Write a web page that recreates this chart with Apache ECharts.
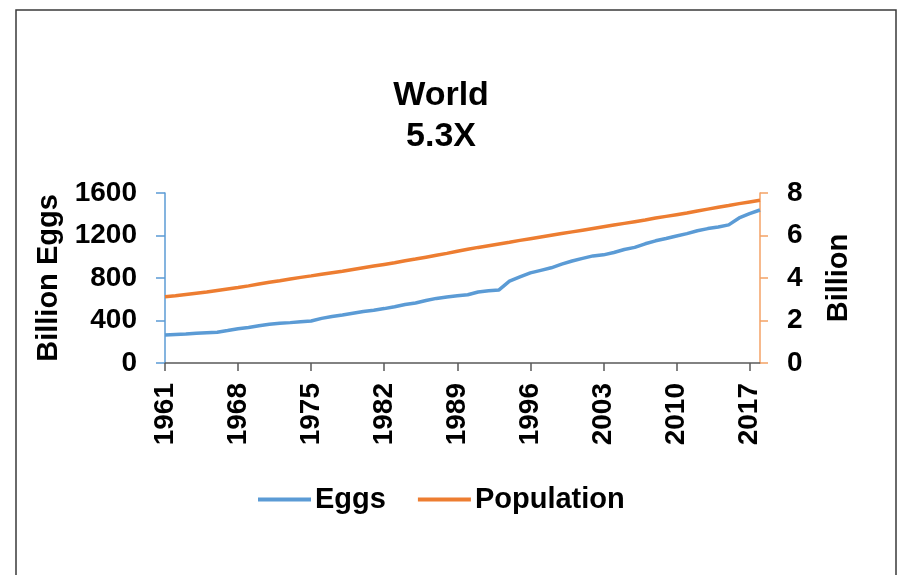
<!DOCTYPE html>
<html>
<head>
<meta charset="utf-8">
<style>
  html, body { margin: 0; padding: 0; background: #ffffff; }
  #chart { width: 901px; height: 575px; }
</style>
<script src="https://cdn.jsdelivr.net/npm/echarts@6/dist/echarts.min.js"></script>
</head>
<body>
<div id="chart"></div>
<script>
// Years 1961–2018
const years = [
  '1961','1962','1963','1964','1965','1966','1967','1968','1969','1970',
  '1971','1972','1973','1974','1975','1976','1977','1978','1979','1980',
  '1981','1982','1983','1984','1985','1986','1987','1988','1989','1990',
  '1991','1992','1993','1994','1995','1996','1997','1998','1999','2000',
  '2001','2002','2003','2004','2005','2006','2007','2008','2009','2010',
  '2011','2012','2013','2014','2015','2016','2017','2018'
];

// Egg production, billion eggs
const eggs = [
  263, 268, 272, 280, 285, 290, 305, 322, 335, 350,
  364, 375, 380, 388, 395, 420, 438, 452, 468, 484,
  496, 512, 530, 550, 565, 588, 608, 622, 632, 642,
  668, 680, 688, 770, 810, 848, 872, 896, 930, 960,
  985, 1008, 1018, 1040, 1068, 1088, 1122, 1150, 1172, 1195,
  1218, 1245, 1265, 1280, 1300, 1365, 1405, 1440
];

// World population, billion
const population = [
  3.12, 3.16, 3.22, 3.28, 3.34, 3.41, 3.48, 3.55, 3.63, 3.72,
  3.80, 3.87, 3.95, 4.03, 4.10, 4.18, 4.25, 4.32, 4.40, 4.48,
  4.56, 4.64, 4.72, 4.81, 4.89, 4.98, 5.07, 5.16, 5.26, 5.35,
  5.44, 5.52, 5.60, 5.68, 5.77, 5.85, 5.93, 6.01, 6.09, 6.17,
  6.25, 6.33, 6.41, 6.49, 6.57, 6.65, 6.73, 6.82, 6.90, 6.98,
  7.06, 7.15, 7.24, 7.33, 7.41, 7.50, 7.58, 7.66
];

const titleLines = ['World', '5.3X'];

const FONT = '"Liberation Sans", Arial, Helvetica, sans-serif';
const BLUE = '#5B9BD5';
const ORANGE = '#ED7D31';

const chart = echarts.init(document.getElementById('chart'), null, { renderer: 'canvas' });

chart.setOption({
  backgroundColor: '#ffffff',
  animation: false,
  textStyle: { fontFamily: FONT },
  graphic: [{
    type: 'rect',
    shape: { x: 16, y: 10, width: 880, height: 620 },
    style: { fill: 'none', stroke: '#3a3a3a', lineWidth: 1.5 },
    silent: true,
    z: 0
  }],
  title: {
    text: titleLines.join('\n'),
    left: 436,
    top: 70,
    textAlign: 'center',
    textStyle: {
      fontFamily: FONT,
      fontSize: 34,
      fontWeight: 'bold',
      color: '#000000',
      lineHeight: 41
    }
  },
  legend: {
    left: 253,
    top: 480,
    icon: 'rect',
    itemWidth: 53,
    itemHeight: 4,
    itemGap: 32,
    textStyle: { fontFamily: FONT, fontSize: 29, fontWeight: 'bold', color: '#000000', padding: [0, 0, 0, -1] },
    data: ['Eggs', 'Population']
  },
  grid: { left: 165, right: 141, top: 193, bottom: 212, containLabel: false },
  xAxis: {
    type: 'category',
    data: years,
    boundaryGap: false,
    axisLine: { lineStyle: { color: '#595959', width: 1.5 } },
    axisTick: { show: true, interval: 6, length: 8, lineStyle: { color: '#595959', width: 1.5 } },
    axisLabel: {
      interval: 6,
      rotate: 90,
      margin: 20,
      fontFamily: FONT,
      fontSize: 28,
      fontWeight: 'bold',
      color: '#000000'
    },
    splitLine: { show: false }
  },
  yAxis: [{
    type: 'value',
    min: 0,
    max: 1600,
    interval: 400,
    name: 'Billion Eggs',
    nameLocation: 'middle',
    nameGap: 102,
    nameRotate: 90,
    nameTextStyle: { fontFamily: FONT, fontSize: 29, fontWeight: 'bold', color: '#000000' },
    axisLine: { show: true, lineStyle: { color: BLUE, width: 1.5 } },
    axisTick: { show: true, length: 9, lineStyle: { color: BLUE, width: 1.5 } },
    axisLabel: {
      margin: 28, fontFamily: FONT, fontSize: 28, fontWeight: 'bold', color: '#000000',
      formatter: v => String(v)
    },
    splitLine: { show: false }
  }, {
    type: 'value',
    min: 0,
    max: 8,
    interval: 2,
    position: 'right',
    name: 'Billion',
    nameLocation: 'middle',
    nameGap: 64,
    nameRotate: 90,
    nameTextStyle: { fontFamily: FONT, fontSize: 29, fontWeight: 'bold', color: '#000000' },
    axisLine: { show: true, lineStyle: { color: '#F4A266', width: 1.5 } },
    axisTick: { show: true, length: 8, lineStyle: { color: '#F4A266', width: 1.5 } },
    axisLabel: {
      margin: 27, fontFamily: FONT, fontSize: 28, fontWeight: 'bold', color: '#000000',
      formatter: v => String(v)
    },
    splitLine: { show: false }
  }],
  series: [{
    name: 'Eggs',
    type: 'line',
    yAxisIndex: 0,
    data: eggs,
    symbol: 'none',
    lineStyle: { color: BLUE, width: 3.5 },
    itemStyle: { color: BLUE },
    z: 3
  }, {
    name: 'Population',
    type: 'line',
    yAxisIndex: 1,
    data: population,
    symbol: 'none',
    lineStyle: { color: ORANGE, width: 3.5 },
    itemStyle: { color: ORANGE },
    z: 3
  }]
});
</script>
</body>
</html>
